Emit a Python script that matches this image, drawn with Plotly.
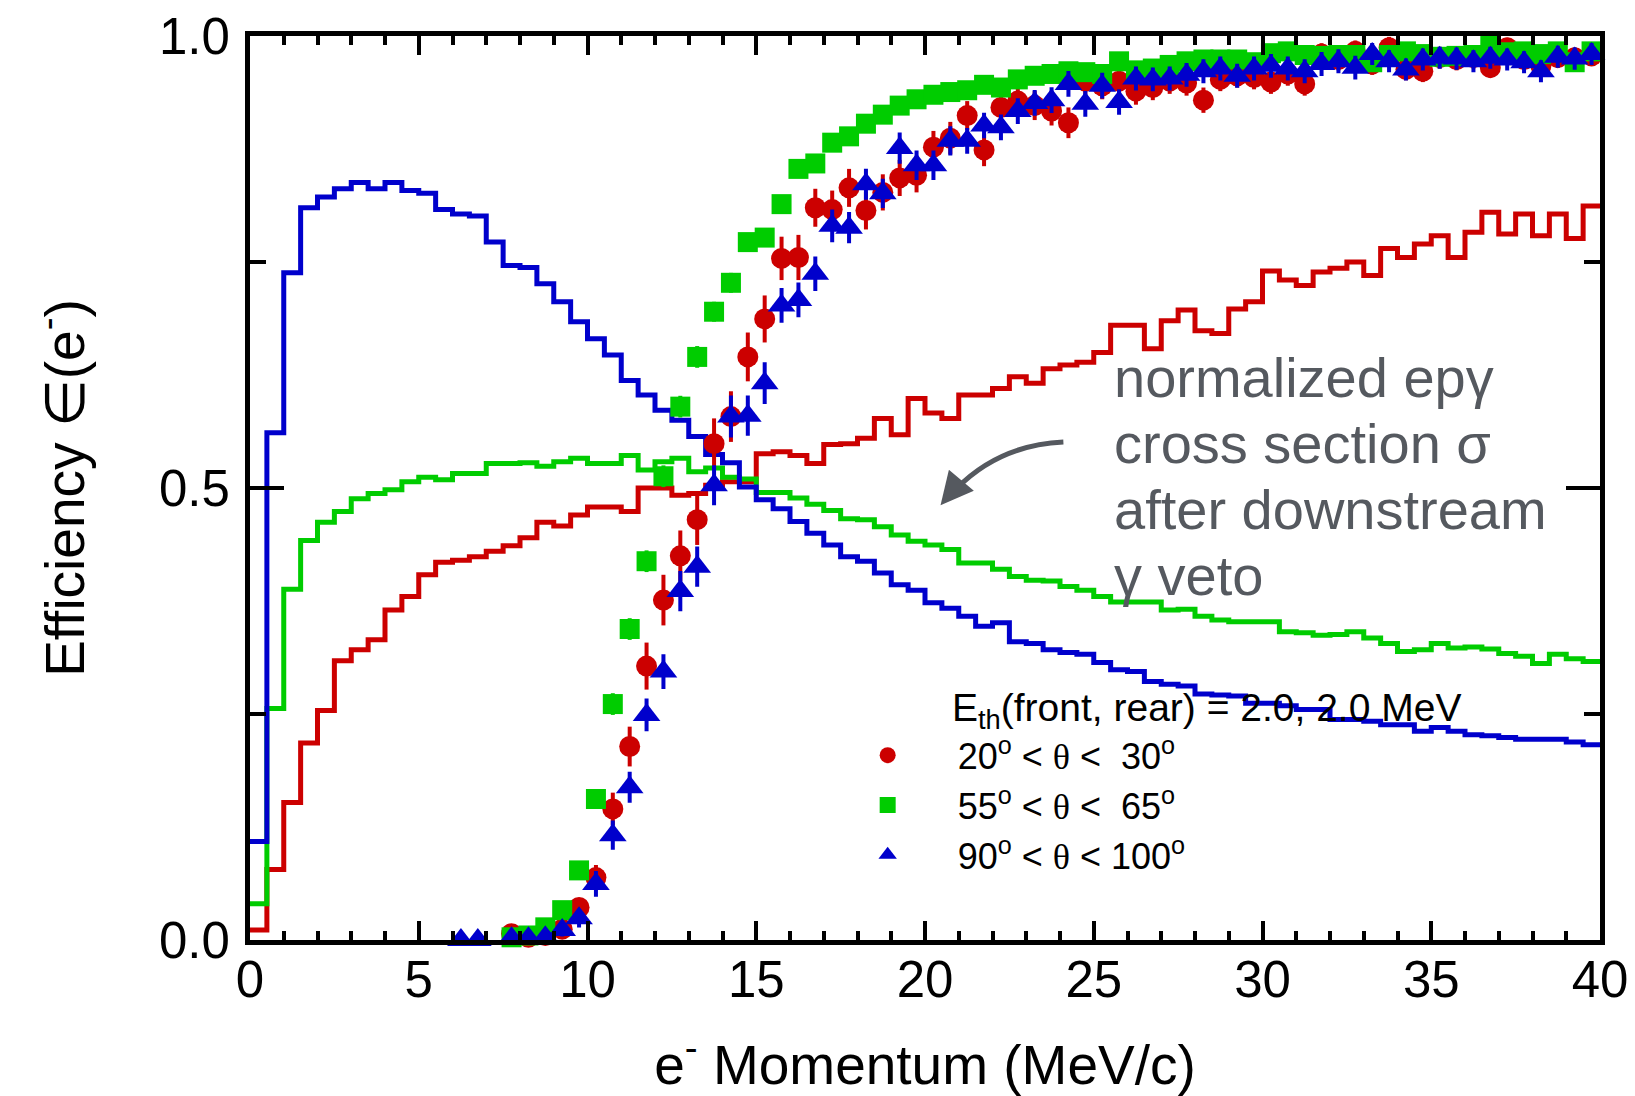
import plotly.graph_objects as go

# ---------------------------------------------------------------------------
# Binning: 0.5 MeV/c bins from 0 to 40 MeV/c
# ---------------------------------------------------------------------------
BIN_WIDTH = 0.5
bin_left = [BIN_WIDTH * i for i in range(80)]

# Normalized ep->e p gamma cross section after downstream gamma veto (histograms)
xsec_20_30 = [
    0.011, 0.078, 0.152, 0.218, 0.254, 0.309, 0.321, 0.332, 0.365, 0.380,
    0.404, 0.418, 0.420, 0.424, 0.430, 0.436, 0.445, 0.462, 0.458, 0.470,
    0.479, 0.479, 0.474, 0.500, 0.500, 0.492, 0.494, 0.503, 0.507, 0.507,
    0.538, 0.540, 0.536, 0.527, 0.548, 0.549, 0.555, 0.577, 0.559, 0.599,
    0.583, 0.577, 0.603, 0.603, 0.610, 0.623, 0.616, 0.632, 0.636, 0.639,
    0.650, 0.680, 0.680, 0.654, 0.685, 0.697, 0.674, 0.671, 0.698, 0.706,
    0.740, 0.730, 0.724, 0.739, 0.743, 0.750, 0.735, 0.765, 0.755, 0.770,
    0.779, 0.755, 0.783, 0.805, 0.781, 0.803, 0.779, 0.803, 0.776, 0.812,
]
xsec_55_65 = [
    0.040, 0.256, 0.388, 0.442, 0.462, 0.474, 0.488, 0.494, 0.498, 0.507,
    0.512, 0.509, 0.516, 0.516, 0.527, 0.527, 0.528, 0.524, 0.529, 0.533,
    0.527, 0.527, 0.536, 0.520, 0.529, 0.533, 0.518, 0.522, 0.512, 0.510,
    0.495, 0.495, 0.489, 0.482, 0.475, 0.466, 0.465, 0.457, 0.448, 0.441,
    0.437, 0.432, 0.417, 0.417, 0.410, 0.402, 0.398, 0.397, 0.391, 0.387,
    0.380, 0.374, 0.374, 0.374, 0.365, 0.366, 0.358, 0.354, 0.352, 0.352,
    0.352, 0.341, 0.340, 0.337, 0.338, 0.341, 0.334, 0.328, 0.319, 0.321,
    0.328, 0.323, 0.324, 0.322, 0.317, 0.314, 0.306, 0.316, 0.311, 0.308,
]
xsec_90_100 = [
    0.109, 0.561, 0.738, 0.810, 0.822, 0.831, 0.838, 0.831, 0.838, 0.829,
    0.826, 0.808, 0.803, 0.801, 0.772, 0.746, 0.744, 0.726, 0.706, 0.684,
    0.665, 0.647, 0.619, 0.603, 0.586, 0.575, 0.557, 0.537, 0.528, 0.501,
    0.487, 0.477, 0.463, 0.450, 0.437, 0.424, 0.419, 0.406, 0.393, 0.387,
    0.373, 0.367, 0.358, 0.347, 0.351, 0.330, 0.328, 0.321, 0.318, 0.316,
    0.307, 0.299, 0.297, 0.286, 0.283, 0.281, 0.272, 0.271, 0.270, 0.262,
    0.262, 0.259, 0.255, 0.255, 0.244, 0.244, 0.242, 0.238, 0.238, 0.231,
    0.235, 0.231, 0.227, 0.226, 0.224, 0.222, 0.222, 0.222, 0.219, 0.216,
]

# ---------------------------------------------------------------------------
# Electron detection efficiency vs momentum (points with errors)
# ---------------------------------------------------------------------------
p_20_30 = [7.75 + BIN_WIDTH * i for i in range(65)]
eff_20_30 = [
    0.007, 0.003, 0.005, 0.012, 0.036, 0.069, 0.145, 0.214, 0.303, 0.376,
    0.425, 0.465, 0.549, 0.579, 0.645, 0.687, 0.754, 0.755, 0.810, 0.808,
    0.832, 0.807, 0.827, 0.843, 0.846, 0.877, 0.887, 0.912, 0.874, 0.921,
    0.928, 0.923, 0.917, 0.904, 0.950, 0.945, 0.950, 0.939, 0.943, 0.950,
    0.948, 0.929, 0.952, 0.956, 0.954, 0.949, 0.958, 0.947, 0.980, 0.974,
    0.983, 0.969, 0.987, 0.963, 0.961, 0.976, 0.974, 0.976, 0.965, 0.987,
    0.974, 0.967, 0.976, 0.976, 0.978,
]
err_20_30 = [
    0.004, 0.003, 0.004, 0.006, 0.009, 0.014, 0.018, 0.022, 0.026, 0.028,
    0.028, 0.028, 0.028, 0.028, 0.027, 0.026, 0.024, 0.025, 0.021, 0.021,
    0.021, 0.021, 0.020, 0.020, 0.019, 0.018, 0.018, 0.016, 0.018, 0.016,
    0.016, 0.016, 0.016, 0.017, 0.015, 0.015, 0.014, 0.015, 0.014, 0.014,
    0.014, 0.014, 0.013, 0.013, 0.013, 0.013, 0.013, 0.013, 0.012, 0.012,
    0.012, 0.012, 0.012, 0.012, 0.012, 0.012, 0.012, 0.012, 0.011, 0.011,
    0.011, 0.011, 0.011, 0.011, 0.011,
]

p_55_65 = [7.75 + BIN_WIDTH * i for i in range(65)]
eff_55_65 = [
    0.003, 0.005, 0.014, 0.033, 0.077, 0.156, 0.261, 0.344, 0.419, 0.513,
    0.590, 0.645, 0.695, 0.727, 0.772, 0.777, 0.814, 0.853, 0.859, 0.882,
    0.889, 0.903, 0.913, 0.923, 0.930, 0.935, 0.938, 0.940, 0.946, 0.943,
    0.952, 0.956, 0.958, 0.961, 0.960, 0.958, 0.972, 0.962, 0.964, 0.968,
    0.972, 0.974, 0.974, 0.974, 0.971, 0.981, 0.983, 0.979, 0.978, 0.979,
    0.979, 0.971, 0.979, 0.983, 0.980, 0.977, 0.978, 0.979, 0.989, 0.982,
    0.983, 0.980, 0.983, 0.971, 0.983,
]
err_55_65 = [
    0.003, 0.003, 0.004, 0.006, 0.008, 0.011, 0.012, 0.012, 0.012, 0.012,
    0.012, 0.012, 0.011, 0.011, 0.010, 0.010, 0.010, 0.010, 0.010, 0.010,
    0.010, 0.010, 0.010, 0.010, 0.010, 0.010, 0.010, 0.010, 0.010, 0.010,
    0.010, 0.010, 0.010, 0.010, 0.008, 0.008, 0.008, 0.008, 0.008, 0.008,
    0.008, 0.008, 0.008, 0.008, 0.008, 0.008, 0.008, 0.008, 0.008, 0.008,
    0.008, 0.008, 0.008, 0.008, 0.008, 0.008, 0.008, 0.008, 0.008, 0.008,
    0.008, 0.008, 0.008, 0.008, 0.008,
]

p_90_100 = [6.25, 6.75] + [7.75 + BIN_WIDTH * i for i in range(65)]
eff_90_100 = [
    0.000, 0.000,
    0.002, 0.002, 0.003, 0.011, 0.024, 0.062, 0.116, 0.169, 0.249, 0.297,
    0.386, 0.413, 0.503, 0.579, 0.580, 0.616, 0.702, 0.708, 0.737, 0.790,
    0.788, 0.836, 0.826, 0.876, 0.857, 0.857, 0.884, 0.884, 0.901, 0.899,
    0.917, 0.926, 0.929, 0.947, 0.925, 0.945, 0.927, 0.953, 0.952, 0.953,
    0.957, 0.961, 0.964, 0.956, 0.964, 0.967, 0.964, 0.961, 0.969, 0.972,
    0.965, 0.980, 0.972, 0.963, 0.974, 0.976, 0.975, 0.972, 0.976, 0.974,
    0.971, 0.961, 0.977, 0.975, 0.980,
]
err_90_100 = [
    0.002, 0.002,
    0.002, 0.002, 0.003, 0.005, 0.008, 0.012, 0.014, 0.015, 0.016, 0.017,
    0.020, 0.020, 0.020, 0.021, 0.020, 0.021, 0.017, 0.017, 0.017, 0.016,
    0.015, 0.015, 0.014, 0.015, 0.014, 0.014, 0.014, 0.012, 0.012, 0.012,
    0.012, 0.012, 0.012, 0.012, 0.012, 0.012, 0.012, 0.011, 0.011, 0.011,
    0.011, 0.011, 0.011, 0.011, 0.011, 0.011, 0.011, 0.011, 0.011, 0.011,
    0.011, 0.010, 0.010, 0.010, 0.010, 0.010, 0.010, 0.010, 0.010, 0.010,
    0.010, 0.010, 0.010, 0.010, 0.010,
]

# Labels
x_title = "e<sup>-</sup> Momentum (MeV/c)"
y_title = "Efficiency \u2208(e<sup>-</sup>)"
theta = '<span style="font-family:Liberation Serif">\u03b8</span>'
series_names = [
    f"20<sup>o</sup> < {theta} <\u00a0 30<sup>o</sup>",
    f"55<sup>o</sup> < {theta} <\u00a0 65<sup>o</sup>",
    f"90<sup>o</sup> < {theta} < 100<sup>o</sup>",
]
threshold_text = "E<sub>th</sub>(front, rear) = 2.0, 2.0 MeV"
note_lines = ["normalized ep\u03b3", "cross section \u03c3", "after downstream", "\u03b3 veto"]

RED, GREEN, BLUE = "#cc0000", "#00cc00", "#0000cc"
GREY = "#55595f"
FONT = "Liberation Sans, Arial, Helvetica, sans-serif"

fig = go.Figure()

# Step histograms of the cross section
for vals, col in [(xsec_20_30, RED), (xsec_55_65, GREEN), (xsec_90_100, BLUE)]:
    fig.add_trace(go.Scatter(
        x=bin_left + [40.0], y=vals + [vals[-1]],
        mode="lines", line=dict(color=col, width=5, shape="hv"),
        showlegend=False, hoverinfo="skip",
    ))

# Efficiency points
for xs, ys, es, col, sym, size, cap, name in [
    (p_20_30, eff_20_30, err_20_30, RED, "circle", 21, 0, series_names[0]),
    (p_55_65, eff_55_65, err_55_65, GREEN, "square", 20, 0, series_names[1]),
    (p_90_100, eff_90_100, err_90_100, BLUE, "triangle-up", 24, 2, series_names[2]),
]:
    fig.add_trace(go.Scatter(
        x=xs, y=ys, mode="markers", name=name,
        marker=dict(symbol=sym, size=size, color=col, line=dict(width=0)),
        error_y=dict(type="data", array=es, visible=True, color=col,
                     thickness=4, width=cap),
        cliponaxis=False,
    ))

# Annotation text block and curved arrow
note_y = [0.6217, 0.5487, 0.4757, 0.4027]
for line, yy in zip(note_lines, note_y):
    fig.add_annotation(
        x=25.55, y=yy, xref="x", yref="y", text=line, showarrow=False,
        xanchor="left", yanchor="middle",
        font=dict(family=FONT, size=56, color=GREY),
    )

fig.add_shape(
    type="path", xref="x", yref="y",
    path="M 24.10,0.5509 Q 22.22,0.5476 20.95,0.5000",
    line=dict(color=GREY, width=5),
)
fig.add_annotation(
    x=20.46, y=0.481, ax=21.02, ay=0.506, xref="x", yref="y",
    axref="x", ayref="y", text="", showarrow=True,
    arrowhead=2, arrowsize=1.3, arrowwidth=5, arrowcolor=GREY,
)

# Legend header
fig.add_annotation(
    x=20.73, y=0.254, xref="x", yref="y", text=threshold_text,
    showarrow=False, xanchor="left", yanchor="middle",
    font=dict(family=FONT, size=39, color="black"),
)

axis_common = dict(
    showline=True, linewidth=5, linecolor="black", mirror="ticks",
    ticks="inside", tickcolor="black", tickwidth=4,
    showgrid=False, zeroline=False, automargin=False,
    tickfont=dict(family=FONT, size=51, color="black"),
)

fig.update_xaxes(
    range=[0, 40], tick0=0, dtick=5, ticklen=19,
    minor=dict(dtick=1, ticklen=9, tickwidth=4, tickcolor="black", ticks="inside"),
    title=dict(text=x_title, font=dict(family=FONT, size=55, color="black"), standoff=50),
    ticklabelstandoff=-9,
    **axis_common,
)
fig.update_yaxes(
    range=[0, 1], tick0=0, dtick=0.5, ticklen=34, tickformat=".1f",
    minor=dict(dtick=0.25, ticklen=16, tickwidth=4, tickcolor="black", ticks="inside"),
    title=dict(text=y_title, font=dict(family=FONT, size=55, color="black"), standoff=58),
    ticklabelstandoff=5,
    **axis_common,
)

fig.update_layout(
    width=1635, height=1096,
    margin=dict(l=250, r=35, t=36, b=156),
    paper_bgcolor="white", plot_bgcolor="white",
    font=dict(family=FONT, color="black"),
    showlegend=True,
    legend=dict(
        x=0.4205, y=0.2375, xanchor="left", yanchor="top",
        font=dict(family=FONT, size=36, color="black"),
        itemwidth=130, bgcolor="rgba(0,0,0,0)", borderwidth=0,
        tracegroupgap=0,
    ),
)

fig.write_html("out.html")
